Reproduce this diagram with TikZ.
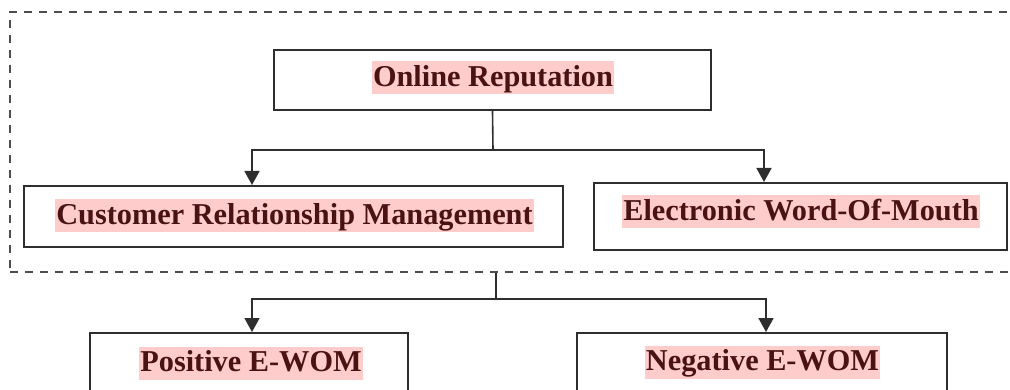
\documentclass[tikz,border=0pt]{standalone}
\usepackage{fontspec}
\setmainfont{Liberation Serif}
\usetikzlibrary{arrows.meta,calc}
\definecolor{hl}{HTML}{FFCCCC}
\definecolor{txt}{HTML}{4A1212}
\definecolor{edge}{HTML}{2E2E2E}
\definecolor{dash}{HTML}{4D4D4D}
\begin{document}
\begin{tikzpicture}[x=1pt,y=-1pt,
  boxn/.style={draw=edge,line width=2pt,minimum width=#1,inner sep=0pt},
  lbl/.style={fill=hl,text=txt,font=\fontsize{30.3}{34}\selectfont\bfseries,inner xsep=1pt,inner ysep=0pt,text height=25pt,text depth=8pt},
  conn/.style={draw=edge,line width=1.6pt,-{Triangle[length=14pt,width=15pt]},shorten >=0pt},
  grpbox/.style={draw=dash,line width=2.2pt,dash pattern=on 8pt off 7pt}]
\clip (0,0) rectangle (1010,390);
\fill[white] (0,0) rectangle (1010,390);
% group
\node[grpbox,minimum width=1006pt,minimum height=260pt,inner sep=0pt] (grp) at (513,142) {};
% boxes
\node[boxn=437pt,minimum height=60pt] (orep) at (492.5,80) {};
\node[boxn=539pt,minimum height=61pt] (crm) at (293.5,216.5) {};
\node[boxn=413pt,minimum height=67pt] (ewom) at (800.5,216.5) {};
\node[boxn=318pt,minimum height=60pt] (pos) at (249,363) {};
\node[boxn=370pt,minimum height=60pt] (neg) at (762,363) {};
% labels
\node[lbl] (torep) at (493,78) {Online Reputation};
\node[lbl] (tcrm) at (294.5,216) {Customer Relationship Management};
\node[lbl] (tewom) at (801,212) {Electronic Word-Of-Mouth};
\node[lbl] (tpos) at (251,363) {Positive E-WOM};
\node[lbl] (tneg) at (762.5,362) {Negative E-WOM};
% connectors
\coordinate (j1) at (493,150);
\coordinate (xa) at (252,0);
\coordinate (xb) at (764,0);
\coordinate (s2) at (496,0);
\coordinate (j2) at (496,299);
\coordinate (xc) at (766,0);
\draw[draw=edge,line width=1.6pt] (orep.south) -- (j1);
\draw[conn] (j1) -| (crm.north -| xa);
\draw[conn] (j1) -| (ewom.north -| xb);
\draw[draw=edge,line width=1.6pt] (grp.south -| s2) -- (j2);
\draw[conn] (j2) -| (pos.north -| xa);
\draw[conn] (j2) -| (neg.north -| xc);
\end{tikzpicture}
\end{document}
